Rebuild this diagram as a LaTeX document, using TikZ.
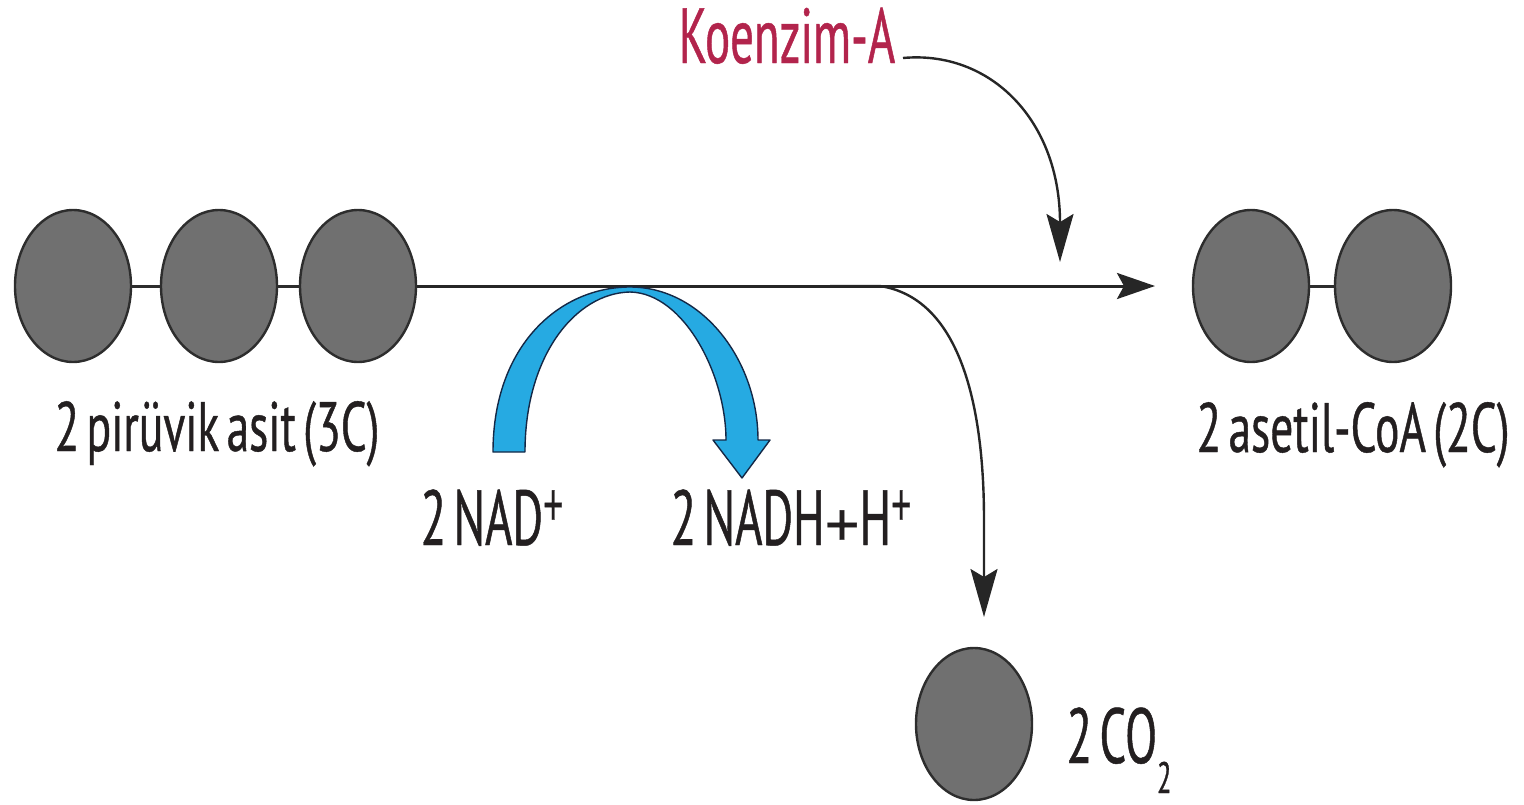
\documentclass[tikz,border=0pt]{standalone}
\usepackage{fontspec}
\setmainfont{PT Sans}[FakeStretch=0.65,FakeBold=0.6,WordSpace=0.6]
\newfontfamily\tallfont{PT Sans}[FakeStretch=0.6,FakeBold=0.6,WordSpace=0.6]
\newfontfamily\plusfont{Liberation Sans}[FakeBold=0.6]
\usetikzlibrary{arrows.meta,shapes.geometric}

\definecolor{atomfill}{RGB}{112,112,112}
\definecolor{atomedge}{RGB}{45,45,45}
\definecolor{inkdark}{RGB}{35,31,32}
\definecolor{coared}{RGB}{178,36,76}
\definecolor{nadblue}{RGB}{38,170,226}
\definecolor{nadedge}{RGB}{20,40,70}

% plus signs: full-size between species, narrow and raised for the charge
\newcommand{\midplus}{{\plusfont\fontsize{60}{60}\selectfont +}}
\newcommand{\ionplus}{\raisebox{20pt}{\scalebox{0.58}[1]{\plusfont\fontsize{60}{60}\selectfont +}}}
\newcommand{\lowidx}[1]{\raisebox{-30pt}{\fontsize{44}{44}\selectfont #1}}

\begin{document}
\begin{tikzpicture}[x=1pt,y=-1pt,
  atom/.style={ellipse,minimum width=116pt,minimum height=152pt,inner sep=0pt,
    fill=atomfill,draw=atomedge,line width=2.4pt},
  bond/.style={line width=3pt,draw=atomedge},
  lbl/.style={font=\fontsize{70}{76}\selectfont,text=inkdark,inner sep=0pt,anchor=base},
  tall/.style={lbl,font=\tallfont\fontsize{78}{84}\selectfont},
  flow/.style={line width=3pt,draw=black!85,-{Stealth[length=38pt,width=26pt,inset=7pt]}},
  thinflow/.style={line width=2.4pt,draw=black!85,-{Stealth[length=48pt,width=27pt,inset=8pt]}}
]
\useasboundingbox (0,0) rectangle (1524,804);

% pyruvate: three carbons
\node[atom] (c1) at (73,286) {};
\node[atom] (c2) at (219,286) {};
\node[atom] (c3) at (358,286) {};
\draw[bond] (c1.east) -- (c2.west);
\draw[bond] (c2.east) -- (c3.west);

% acetyl-CoA: two carbons
\node[atom] (a1) at (1251,286) {};
\node[atom] (a2) at (1393,286) {};
\draw[bond] (a1.east) -- (a2.west);

% carbon dioxide
\node[atom] (co) at (974,724) {};

% labels
\node[lbl] (lpyr) at (217,451) {2 pirüvik asit (3C)};
\node[lbl] (lace) at (1353,452) {2 asetil-CoA (2C)};
\node[tall] (lnad) at (492,545) {2 NAD\ionplus};
\node[tall] (lnadh) at (791,545) {2 NADH\midplus H\ionplus};
\node[tall,text=coared] (lcoa) at (787,63) {Koenzim-A};
\node[tall] (lco) at (1119,763) {2 CO\lowidx{2}};

% main reaction arrow
\coordinate (tip) at (1155,286);
\draw[flow] (c3.east) -- (tip);

% coenzyme A entering
\coordinate (kstart) at (903,58);
\coordinate (kend) at (1060,262);
\draw[thinflow] (kstart) .. controls (990,50) and (1060,120) .. (kend);

% CO2 leaving
\coordinate (cstart) at (830,286);
\coordinate (cend) at (984,617);
\draw[thinflow] (cstart) -- (880,286) .. controls (958,298) and (984,400) .. (984,520) -- (cend);

% NAD+ -> NADH curved band arrow
\draw[fill=nadblue,draw=nadedge,line width=1.4pt,line join=round]
  (493,452) .. controls (493,345) and (560,287) .. (630,287)
  .. controls (702,287) and (758,360) .. (758,440)
  -- (770,440) -- (742,478) -- (713,440) -- (726,440)
  .. controls (726,375) and (684,293) .. (630,292)
  .. controls (576,293) and (525,355) .. (525,452) -- cycle;
\end{tikzpicture}
\end{document}
